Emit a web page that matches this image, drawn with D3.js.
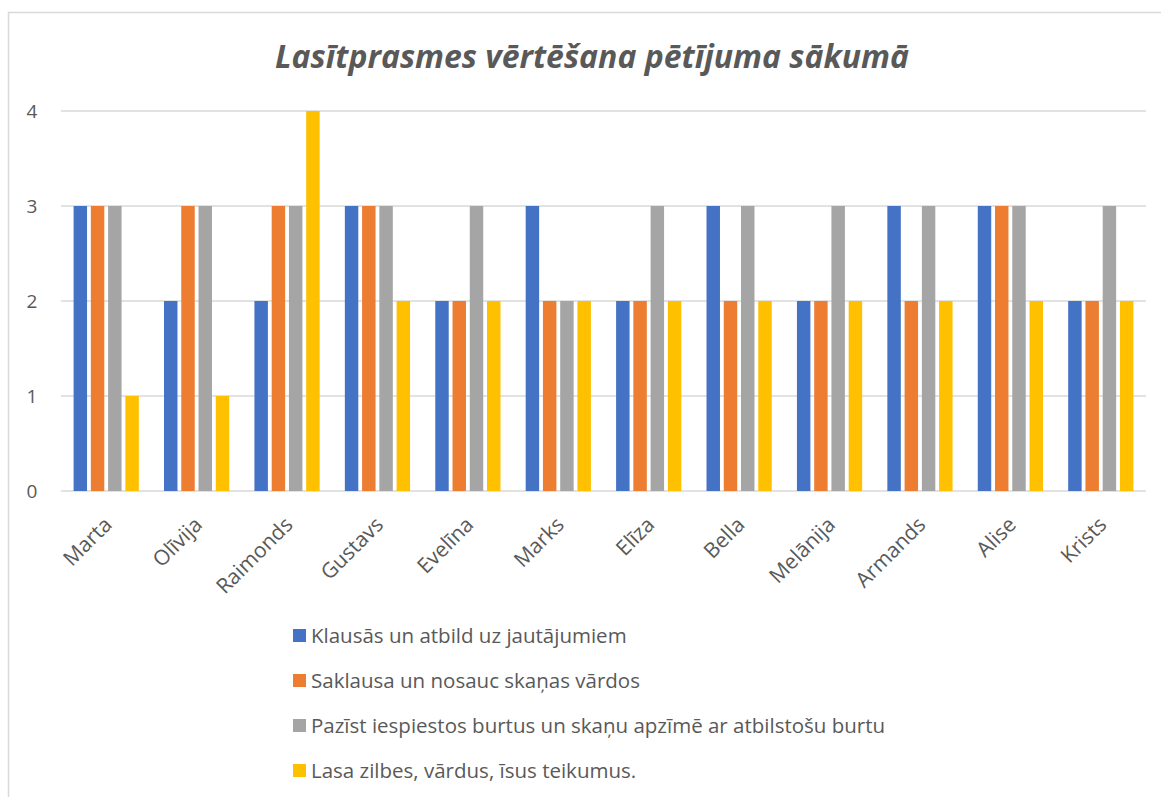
<!DOCTYPE html>
<html>
<head>
<meta charset="utf-8">
<script src="https://cdn.jsdelivr.net/npm/d3@7"></script>
<style>
  body { margin: 0; background: #fff; }
  text { font-family: "Open Sans", "Noto Sans", sans-serif; fill: #595959; }
</style>
</head>
<body>
<div id="chart"></div>
<script>
var names = ["Marta", "Olīvija", "Raimonds", "Gustavs", "Evelīna", "Marks", "Elīza", "Bella", "Melānija", "Armands", "Alise", "Krists"];
var seriesNames = [
  "Klausās un atbild uz jautājumiem",
  "Saklausa un nosauc skaņas vārdos",
  "Pazīst iespiestos burtus un skaņu apzīmē ar atbilstošu burtu",
  "Lasa zilbes, vārdus, īsus teikumus."
];
var klausas   = [3, 2, 2, 3, 2, 3, 2, 3, 2, 3, 3, 2];
var saklausa  = [3, 3, 3, 3, 2, 2, 2, 2, 2, 2, 3, 2];
var pazist    = [3, 3, 3, 3, 3, 2, 3, 3, 3, 3, 3, 3];
var lasa      = [1, 1, 4, 2, 2, 2, 2, 2, 2, 2, 2, 2];
var yTicks = [0, 1, 2, 3, 4];
var colors = ["#4472C4", "#ED7D31", "#A5A5A5", "#FFC000"];

var allSeries = [klausas, saklausa, pazist, lasa];

var width = 1161, height = 797;
var plotLeft = 61, plotRight = 1146, plotTop = 111, plotBottom = 491;

var svg = d3.select("#chart").append("svg")
  .attr("width", width)
  .attr("height", height);

// chart border
svg.append("path")
  .attr("d", "M8.5," + height + "V12.5H" + width)
  .attr("fill", "none")
  .attr("stroke", "#d9d9d9")
  .attr("stroke-width", 1.5);

var x0 = d3.scaleBand().domain(names).range([plotLeft, plotRight]);
var x1 = d3.scaleBand().domain(d3.range(4))
  .range([12.6, x0.bandwidth() - 12.6])
  .paddingInner(0.22);
var y = d3.scaleLinear().domain([0, 4]).range([plotBottom, plotTop]);

// gridlines
svg.append("g")
  .selectAll("line")
  .data(yTicks)
  .join("line")
    .attr("x1", plotLeft).attr("x2", plotRight)
    .attr("y1", d => y(d)).attr("y2", d => y(d))
    .attr("stroke", "#d9d9d9")
    .attr("stroke-width", 1.3);

// y labels
svg.append("g")
  .selectAll("text")
  .data(yTicks)
  .join("text")
    .attr("x", 32)
    .attr("y", d => y(d))
    .attr("dy", "0.36em")
    .attr("text-anchor", "middle")
    .attr("font-size", 19)
    .text(d => d);

// bars
var groups = svg.append("g")
  .selectAll("g")
  .data(names)
  .join("g")
    .attr("transform", d => "translate(" + x0(d) + ",0)");

groups.selectAll("rect")
  .data((d, i) => allSeries.map((s, k) => ({ k: k, v: s[i] })))
  .join("rect")
    .attr("x", d => x1(d.k))
    .attr("width", x1.bandwidth())
    .attr("y", d => y(d.v))
    .attr("height", d => y(0) - y(d.v))
    .attr("fill", d => colors[d.k]);

// x labels
svg.append("g")
  .selectAll("text")
  .data(names)
  .join("text")
    .attr("text-anchor", "end")
    .attr("font-size", 21)
    .attr("transform", d => "translate(" + (x0(d) + x0.bandwidth() / 2 + 7) + "," + 526 + ") rotate(-45)")
    .text(d => d);

// title
svg.append("text")
  .attr("x", 592)
  .attr("y", 68)
  .attr("text-anchor", "middle")
  .attr("font-size", 32)
  .attr("font-style", "italic")
  .attr("font-weight", "bold")
  .text("Lasītprasmes vērtēšana pētījuma sākumā");

// legend
var legend = svg.append("g")
  .selectAll("g")
  .data(seriesNames)
  .join("g")
    .attr("transform", (d, i) => "translate(293," + (635.5 + i * 45) + ")");

legend.append("rect")
  .attr("x", 0).attr("y", -6.5)
  .attr("width", 13).attr("height", 13)
  .attr("fill", (d, i) => colors[i]);

legend.append("text")
  .attr("x", 18)
  .attr("dy", "0.36em")
  .attr("font-size", 20.5)
  .text(d => d);
</script>
</body>
</html>
